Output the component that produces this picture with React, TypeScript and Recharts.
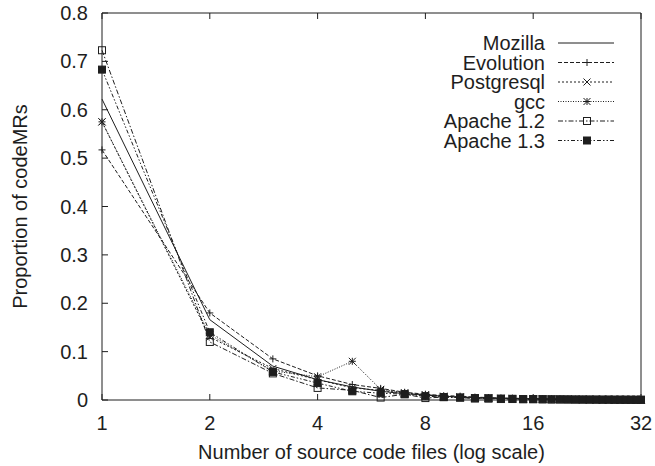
import { LineChart, Line, XAxis, YAxis, Legend, Label } from "recharts";

// number of source code files touched by an MR
const files = [
  1, 2, 3, 4, 5, 6, 7, 8, 9, 10, 11, 12, 13, 14, 15, 16,
  17, 18, 19, 20, 21, 22, 23, 24, 25, 26, 27, 28, 29, 30, 31, 32,
];

// proportion of code MRs
const mozilla = [
  0.622, 0.166, 0.07, 0.042, 0.027, 0.018, 0.013, 0.01, 0.008, 0.006, 0.005, 0.004, 0.0035, 0.003, 0.0028, 0.0025,
  0.0022, 0.002, 0.0018, 0.0016, 0.0015, 0.0014, 0.0013, 0.0012, 0.0011, 0.001, 0.001, 0.0009, 0.0009, 0.0008, 0.0008, 0.0007,
];
const evolution = [
  0.517, 0.18, 0.085, 0.05, 0.032, 0.024, 0.016, 0.012, 0.009, 0.008, 0.006, 0.005, 0.004, 0.004, 0.003, 0.003,
  0.0025, 0.002, 0.002, 0.0018, 0.0015, 0.0015, 0.0012, 0.001, 0.001, 0.001, 0.0008, 0.0008, 0.0007, 0.0006, 0.0006, 0.0005,
];
const postgresql = [
  0.575, 0.13, 0.065, 0.042, 0.025, 0.02, 0.014, 0.011, 0.008, 0.006, 0.005, 0.004, 0.003, 0.003, 0.0025, 0.002,
  0.002, 0.0018, 0.0015, 0.0014, 0.0012, 0.0011, 0.001, 0.001, 0.0009, 0.0008, 0.0008, 0.0007, 0.0006, 0.0006, 0.0005, 0.0005,
];
const gcc = [
  0.575, 0.135, 0.06, 0.048, 0.08, 0.022, 0.015, 0.01, 0.007, 0.006, 0.005, 0.004, 0.0035, 0.003, 0.0025, 0.0022,
  0.002, 0.0018, 0.0016, 0.0015, 0.0013, 0.0012, 0.0011, 0.001, 0.0009, 0.0009, 0.0008, 0.0007, 0.0007, 0.0006, 0.0006, 0.0005,
];
const apache12 = [
  0.723, 0.12, 0.055, 0.025, 0.02, 0.005, 0.012, 0.004, 0.006, 0.005, 0.003, 0.003, 0.002, 0.002, 0.0015, 0.0015,
  0.0012, 0.001, 0.001, 0.001, 0.0008, 0.0008, 0.0007, 0.0007, 0.0006, 0.0006, 0.0005, 0.0005, 0.0005, 0.0004, 0.0004, 0.0004,
];
const apache13 = [
  0.683, 0.14, 0.058, 0.035, 0.018, 0.014, 0.012, 0.008, 0.006, 0.005, 0.004, 0.0035, 0.003, 0.0025, 0.002, 0.002,
  0.0018, 0.0015, 0.0014, 0.0012, 0.0011, 0.001, 0.001, 0.0009, 0.0008, 0.0008, 0.0007, 0.0007, 0.0006, 0.0006, 0.0005, 0.0005,
];

const xTicks = [1, 2, 4, 8, 16, 32];
const yTicks = [0, 0.1, 0.2, 0.3, 0.4, 0.5, 0.6, 0.7, 0.8];

const SERIES = [
  { key: "mozilla", name: "Mozilla", values: mozilla, dash: undefined, marker: "none" },
  { key: "evolution", name: "Evolution", values: evolution, dash: "4 2", marker: "plus" },
  { key: "postgresql", name: "Postgresql", values: postgresql, dash: "2 2", marker: "cross" },
  { key: "gcc", name: "gcc", values: gcc, dash: "1 1.5", marker: "star" },
  { key: "apache12", name: "Apache 1.2", values: apache12, dash: "5 2 1.5 2", marker: "openSquare" },
  { key: "apache13", name: "Apache 1.3", values: apache13, dash: "4 2 1.5 2 1.5 2", marker: "filledSquare" },
];

const data = files.map((f, i) => {
  const row: Record<string, number> = { files: f };
  SERIES.forEach((s) => (row[s.key] = s.values[i]));
  return row;
});

const INK = "#1e1e1e";
const FONT = "'Liberation Sans', Arial, Helvetica, sans-serif";
const FS = 20;

const Marker = ({ shape, cx, cy }: { shape: string; cx: number; cy: number }) => {
  const s = 3.5;
  if (shape === "plus")
    return (
      <g stroke={INK} strokeWidth={1}>
        <line x1={cx - s} y1={cy} x2={cx + s} y2={cy} />
        <line x1={cx} y1={cy - s} x2={cx} y2={cy + s} />
      </g>
    );
  if (shape === "cross")
    return (
      <g stroke={INK} strokeWidth={1}>
        <line x1={cx - s} y1={cy - s} x2={cx + s} y2={cy + s} />
        <line x1={cx - s} y1={cy + s} x2={cx + s} y2={cy - s} />
      </g>
    );
  if (shape === "star")
    return (
      <g stroke={INK} strokeWidth={1}>
        <line x1={cx - s} y1={cy} x2={cx + s} y2={cy} />
        <line x1={cx} y1={cy - s} x2={cx} y2={cy + s} />
        <line x1={cx - s} y1={cy - s} x2={cx + s} y2={cy + s} />
        <line x1={cx - s} y1={cy + s} x2={cx + s} y2={cy - s} />
      </g>
    );
  if (shape === "openSquare")
    return <rect x={cx - s} y={cy - s} width={2 * s} height={2 * s} fill="none" stroke={INK} strokeWidth={1} />;
  if (shape === "filledSquare")
    return <rect x={cx - s} y={cy - s} width={2 * s} height={2 * s} fill={INK} stroke={INK} strokeWidth={1} />;
  return null;
};

const makeDot = (shape: string) => (props: any) => {
  const { cx, cy, index } = props;
  if (shape === "none" || cx == null || cy == null) return <g key={`d-${index}`} />;
  return (
    <g key={`d-${index}`}>
      <Marker shape={shape} cx={cx} cy={cy} />
    </g>
  );
};

// gnuplot-style ticks pointing into the plot
const BottomTick = (props: any) => {
  const { x, y, payload } = props;
  return (
    <g>
      <line x1={x} y1={y} x2={x} y2={y - 6} stroke={INK} />
      <text x={x} y={y + 30} textAnchor="middle" fontSize={FS} fontFamily={FONT} fill={INK}>
        {payload.value}
      </text>
    </g>
  );
};
const TopTick = (props: any) => {
  const { x, y } = props;
  return <line x1={x} y1={y} x2={x} y2={y + 6} stroke={INK} />;
};
const LeftTick = (props: any) => {
  const { x, y, payload } = props;
  return (
    <g>
      <line x1={x} y1={y} x2={x + 6} y2={y} stroke={INK} />
      <text x={x - 14} y={y + 7} textAnchor="end" fontSize={FS} fontFamily={FONT} fill={INK}>
        {String(payload.value)}
      </text>
    </g>
  );
};
const RightTick = (props: any) => {
  const { x, y } = props;
  return <line x1={x} y1={y} x2={x - 6} y2={y} stroke={INK} />;
};

const renderLegend = () => (
  <svg width={240} height={125}>
    {SERIES.map((s, i) => {
      const y = 10 + i * 19.5;
      return (
        <g key={s.key}>
          <text x={145} y={y + 7} textAnchor="end" fontSize={FS} fontFamily={FONT} fill={INK}>
            {s.name}
          </text>
          <line x1={158} y1={y} x2={214} y2={y} stroke={INK} strokeWidth={1} strokeDasharray={s.dash} />
          <Marker shape={s.marker} cx={187} cy={y} />
        </g>
      );
    })}
  </svg>
);

const App = () => {
  return (
    <div style={{ position: "absolute", left: 0, top: 0, background: "#fff" }}>
      <LineChart width={655} height={466} data={data} margin={{ top: 12, right: 13, bottom: 0, left: 0 }}>
        <XAxis
          dataKey="files"
          type="number"
          scale="log"
          domain={[1, 32]}
          ticks={xTicks}
          height={66}
          tickSize={0}
          tickMargin={0}
          tickLine={false}
          axisLine={{ stroke: INK }}
          tick={<BottomTick />}
          interval={0}
        >
          <Label
            value="Number of source code files (log scale)"
            position="insideBottom"
            offset={7}
            style={{ fontSize: FS, fontFamily: FONT, fill: INK }}
          />
        </XAxis>
        <XAxis
          xAxisId="top"
          orientation="top"
          dataKey="files"
          type="number"
          scale="log"
          domain={[1, 32]}
          ticks={xTicks}
          height={1}
          tickSize={0}
          tickMargin={0}
          tickLine={false}
          axisLine={{ stroke: INK }}
          tick={<TopTick />}
          interval={0}
        />
        <YAxis
          type="number"
          domain={[0, 0.8]}
          ticks={yTicks}
          width={102}
          tickSize={0}
          tickMargin={0}
          tickLine={false}
          axisLine={{ stroke: INK }}
          tick={<LeftTick />}
          interval={0}
        >
          <Label
            value="Proportion of codeMRs"
            angle={-90}
            position="insideLeft"
            offset={20}
            style={{ fontSize: FS, fontFamily: FONT, fill: INK, textAnchor: "middle" }}
          />
        </YAxis>
        <YAxis
          yAxisId="right"
          orientation="right"
          type="number"
          domain={[0, 0.8]}
          ticks={yTicks}
          width={1}
          tickSize={0}
          tickMargin={0}
          tickLine={false}
          axisLine={{ stroke: INK }}
          tick={<RightTick />}
          interval={0}
        />
        <Legend
          layout="vertical"
          align="center"
          verticalAlign="middle"
          content={renderLegend}
          wrapperStyle={{ top: 33, left: 400, width: 240 }}
        />
        {SERIES.map((s) => (
          <Line
            key={s.key}
            dataKey={s.key}
            name={s.name}
            type="linear"
            stroke={INK}
            strokeWidth={1}
            strokeDasharray={s.dash}
            dot={makeDot(s.marker)}
            activeDot={false}
            isAnimationActive={false}
          />
        ))}
      </LineChart>
    </div>
  );
};

export default App;
